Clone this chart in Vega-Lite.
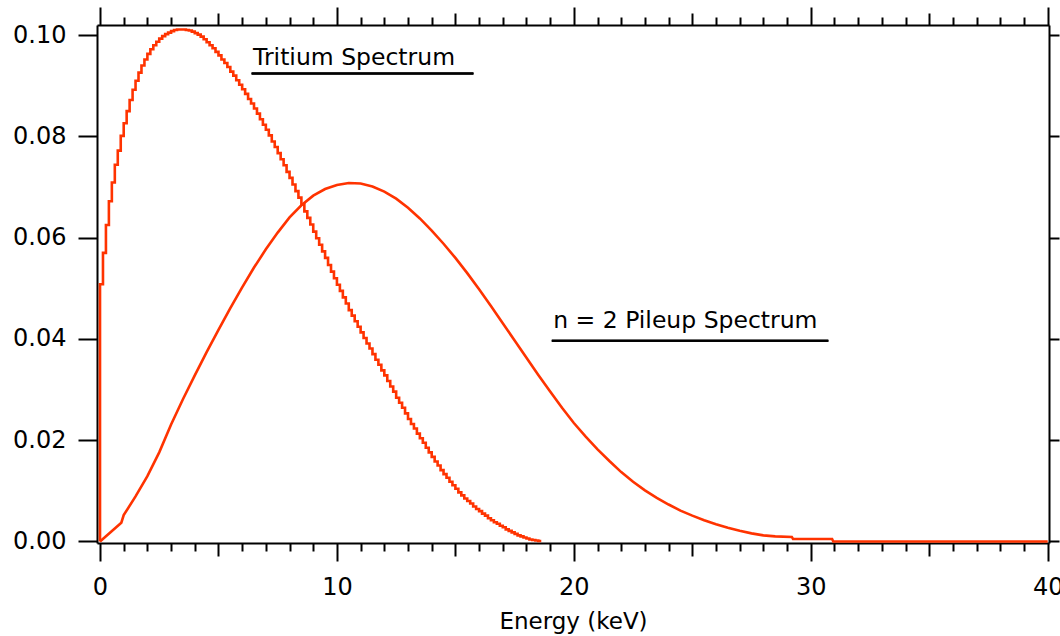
{
"$schema": "https://vega.github.io/schema/vega-lite/v6.json",
"width": 952, "height": 518,
"autosize": {"type": "none"},
"padding": {"left": 97, "top": 25, "right": 11, "bottom": 93},
"background": "white",
"config": {"view": {"stroke": null}, "axis": {"domainColor": "black", "domainWidth": 2, "tickColor": "black", "tickWidth": 2, "labelFont": "DejaVu Sans", "labelFontSize": 24, "labelColor": "black", "titleFont": "DejaVu Sans", "titleFontSize": 23, "titleFontWeight": "normal", "titleColor": "black", "grid": false, "labelFlush": false, "labelOverlap": false}},
"datasets": {
"tritium": [
{"x":0,"y":0},{"x":0.125,"y":0.0508},{"x":0.25,"y":0.0570},{"x":0.375,"y":0.0625},{"x":0.5,"y":0.0672},{"x":0.625,"y":0.0709},{"x":0.75,"y":0.0744},{"x":0.875,"y":0.0772},{"x":1.0,"y":0.0801},{"x":1.125,"y":0.0826},{"x":1.25,"y":0.0850},{"x":1.375,"y":0.0872},{"x":1.5,"y":0.0892},{"x":1.625,"y":0.0910},{"x":1.75,"y":0.0926},{"x":1.875,"y":0.0940},{"x":2.0,"y":0.0952},{"x":2.125,"y":0.0963},{"x":2.25,"y":0.0972},{"x":2.375,"y":0.0980},{"x":2.5,"y":0.0987},{"x":2.625,"y":0.0993},{"x":2.75,"y":0.0998},{"x":2.875,"y":0.1002},{"x":3.0,"y":0.1005},{"x":3.125,"y":0.1008},{"x":3.25,"y":0.1010},{"x":3.375,"y":0.1011},{"x":3.5,"y":0.1011},{"x":3.625,"y":0.1011},{"x":3.75,"y":0.1010},{"x":3.875,"y":0.1009},{"x":4.0,"y":0.1007},{"x":4.125,"y":0.1004},{"x":4.25,"y":0.1001},{"x":4.375,"y":0.0997},{"x":4.5,"y":0.0992},{"x":4.625,"y":0.0986},{"x":4.75,"y":0.0980},{"x":4.875,"y":0.0974},{"x":5.0,"y":0.0967},{"x":5.125,"y":0.0960},{"x":5.25,"y":0.0952},{"x":5.375,"y":0.0945},{"x":5.5,"y":0.0937},{"x":5.625,"y":0.0928},{"x":5.75,"y":0.0920},{"x":5.875,"y":0.0911},{"x":6.0,"y":0.0902},{"x":6.125,"y":0.0893},{"x":6.25,"y":0.0884},{"x":6.375,"y":0.0874},{"x":6.5,"y":0.0865},{"x":6.625,"y":0.0855},{"x":6.75,"y":0.0845},{"x":6.875,"y":0.0834},{"x":7.0,"y":0.0823},{"x":7.125,"y":0.0813},{"x":7.25,"y":0.0802},{"x":7.375,"y":0.0790},{"x":7.5,"y":0.0779},{"x":7.625,"y":0.0767},{"x":7.75,"y":0.0755},{"x":7.875,"y":0.0743},{"x":8.0,"y":0.0730},{"x":8.125,"y":0.0718},{"x":8.25,"y":0.0705},{"x":8.375,"y":0.0692},{"x":8.5,"y":0.0679},{"x":8.625,"y":0.0666},{"x":8.75,"y":0.0652},{"x":8.875,"y":0.0639},{"x":9.0,"y":0.0626},{"x":9.125,"y":0.0612},{"x":9.25,"y":0.0599},{"x":9.375,"y":0.0586},{"x":9.5,"y":0.0573},{"x":9.625,"y":0.0560},{"x":9.75,"y":0.0546},{"x":9.875,"y":0.0533},{"x":10.0,"y":0.0520},{"x":10.125,"y":0.0507},{"x":10.25,"y":0.0495},{"x":10.375,"y":0.0482},{"x":10.5,"y":0.0470},{"x":10.625,"y":0.0457},{"x":10.75,"y":0.0446},{"x":10.875,"y":0.0435},{"x":11.0,"y":0.0424},{"x":11.125,"y":0.0413},{"x":11.25,"y":0.0402},{"x":11.375,"y":0.0391},{"x":11.5,"y":0.0381},{"x":11.625,"y":0.0370},{"x":11.75,"y":0.0359},{"x":11.875,"y":0.0349},{"x":12.0,"y":0.0338},{"x":12.125,"y":0.0328},{"x":12.25,"y":0.0317},{"x":12.375,"y":0.0306},{"x":12.5,"y":0.0296},{"x":12.625,"y":0.0284},{"x":12.75,"y":0.0274},{"x":12.875,"y":0.0264},{"x":13.0,"y":0.0253},{"x":13.125,"y":0.0242},{"x":13.25,"y":0.0232},{"x":13.375,"y":0.0223},{"x":13.5,"y":0.0213},{"x":13.625,"y":0.0204},{"x":13.75,"y":0.0195},{"x":13.875,"y":0.0185},{"x":14.0,"y":0.0176},{"x":14.125,"y":0.0167},{"x":14.25,"y":0.0158},{"x":14.375,"y":0.0150},{"x":14.5,"y":0.0141},{"x":14.625,"y":0.0133},{"x":14.75,"y":0.0126},{"x":14.875,"y":0.0118},{"x":15.0,"y":0.0111},{"x":15.125,"y":0.0104},{"x":15.25,"y":0.0097},{"x":15.375,"y":0.0091},{"x":15.5,"y":0.0085},{"x":15.625,"y":0.0080},{"x":15.75,"y":0.0075},{"x":15.875,"y":0.0069},{"x":16.0,"y":0.0064},{"x":16.125,"y":0.0060},{"x":16.25,"y":0.0055},{"x":16.375,"y":0.0051},{"x":16.5,"y":0.0046},{"x":16.625,"y":0.0042},{"x":16.75,"y":0.0038},{"x":16.875,"y":0.0035},{"x":17.0,"y":0.0031},{"x":17.125,"y":0.0028},{"x":17.25,"y":0.0024},{"x":17.375,"y":0.0021},{"x":17.5,"y":0.0018},{"x":17.625,"y":0.0015},{"x":17.75,"y":0.0012},{"x":17.875,"y":0.0010},{"x":18.0,"y":0.0008},{"x":18.125,"y":0.0006},{"x":18.25,"y":0.0004},{"x":18.375,"y":0.0003},{"x":18.5,"y":0.0002},{"x":18.625,"y":0.0001}
],
"pileup": [
{"x":0,"y":0},{"x":0.9,"y":0.0037},{"x":1.0,"y":0.0052},{"x":1.5,"y":0.0089},{"x":2.0,"y":0.0129},{"x":2.5,"y":0.0176},{"x":3.0,"y":0.0231},{"x":3.5,"y":0.0281},{"x":4.0,"y":0.0328},{"x":4.5,"y":0.0374},{"x":5.0,"y":0.0418},{"x":5.5,"y":0.0461},{"x":6.0,"y":0.0502},{"x":6.5,"y":0.0541},{"x":7.0,"y":0.0577},{"x":7.5,"y":0.0610},{"x":8.0,"y":0.0640},{"x":8.5,"y":0.0664},{"x":9.0,"y":0.0683},{"x":9.5,"y":0.0696},{"x":10.0,"y":0.0704},{"x":10.5,"y":0.0708},{"x":11.0,"y":0.0707},{"x":11.5,"y":0.0701},{"x":12.0,"y":0.0691},{"x":12.5,"y":0.0677},{"x":13.0,"y":0.0659},{"x":13.5,"y":0.0638},{"x":14.0,"y":0.0614},{"x":14.5,"y":0.0588},{"x":15.0,"y":0.0560},{"x":15.5,"y":0.0530},{"x":16.0,"y":0.0498},{"x":16.5,"y":0.0465},{"x":17.0,"y":0.0431},{"x":17.5,"y":0.0397},{"x":18.0,"y":0.0363},{"x":18.5,"y":0.0329},{"x":19.0,"y":0.0296},{"x":19.5,"y":0.0264},{"x":20.0,"y":0.0234},{"x":20.5,"y":0.0207},{"x":21.0,"y":0.0182},{"x":21.5,"y":0.0159},{"x":22.0,"y":0.0137},{"x":22.5,"y":0.0118},{"x":23.0,"y":0.0101},{"x":23.5,"y":0.0086},{"x":24.0,"y":0.0073},{"x":24.5,"y":0.0061},{"x":25.0,"y":0.0051},{"x":25.5,"y":0.0042},{"x":26.0,"y":0.0034},{"x":26.5,"y":0.0027},{"x":27.0,"y":0.0021},{"x":27.5,"y":0.0016},{"x":28.0,"y":0.0012},{"x":28.5,"y":0.0010},{"x":29.2,"y":0.0009},{"x":29.25,"y":0.0005},{"x":30.9,"y":0.0005},{"x":30.95,"y":0},{"x":40,"y":0}
],
"labels": [
{"x":6.46,"y":0.0941,"label":"Tritium Spectrum"},
{"x":19.13,"y":0.0421,"label":"n = 2 Pileup Spectrum"}
],
"underlines": [
{"x":6.40,"x2":15.76,"y":0.0924},
{"x":19.07,"x2":30.74,"y":0.03965}
]
},
"layer": [
{
"data": {"name": "tritium"},
"mark": {"type": "line", "interpolate": "step-before", "color": "#ff3300", "strokeWidth": 2.6},
"encoding": {
"x": {"field": "x", "type": "quantitative", "scale": {"domain": [-0.127, 40.055], "nice": false, "zero": false},
"axis": {"orient": "bottom", "values": [0, 10, 20, 30, 40], "format": "d", "tickSize": 18, "labelPadding": 14, "title": "Energy (keV)", "titlePadding": 11}},
"y": {"field": "y", "type": "quantitative", "scale": {"domain": [-0.0003, 0.102], "nice": false, "zero": false},
"axis": {"orient": "left", "values": [0, 0.02, 0.04, 0.06, 0.08, 0.1], "format": ".2f", "tickSize": 19, "labelPadding": 12, "title": null}}
}
},
{
"data": {"name": "pileup"},
"mark": {"type": "line", "interpolate": "linear", "color": "#ff3300", "strokeWidth": 2.6},
"encoding": {
"x": {"field": "x", "type": "quantitative", "scale": {"domain": [-0.127, 40.055], "nice": false, "zero": false},
"axis": {"orient": "bottom", "values": [1,2,3,4,6,7,8,9,11,12,13,14,16,17,18,19,21,22,23,24,26,27,28,29,31,32,33,34,36,37,38,39], "tickSize": 8, "labels": false, "domain": false, "title": null}},
"y": {"field": "y", "type": "quantitative", "scale": {"domain": [-0.0003, 0.102], "nice": false, "zero": false},
"axis": {"orient": "right", "values": [0, 0.02, 0.04, 0.06, 0.08, 0.1], "tickSize": 10, "labels": false, "title": null}}
}
},
{
"data": {"name": "underlines"},
"mark": {"type": "rule", "color": "black", "strokeWidth": 2},
"encoding": {
"x": {"field": "x", "type": "quantitative", "scale": {"domain": [-0.127, 40.055], "nice": false, "zero": false},
"axis": {"orient": "bottom", "values": [5, 15, 25, 35], "tickSize": 13, "labels": false, "domain": false, "title": null}},
"x2": {"field": "x2"},
"y": {"field": "y", "type": "quantitative", "axis": null}
}
},
{
"data": {"name": "labels"},
"mark": {"type": "text", "align": "left", "baseline": "alphabetic", "font": "DejaVu Sans", "fontSize": 23.5, "color": "black"},
"encoding": {
"x": {"field": "x", "type": "quantitative", "scale": {"domain": [-0.127, 40.055], "nice": false, "zero": false},
"axis": {"orient": "top", "values": [0, 10, 20, 30, 40], "tickSize": 18, "labels": false, "title": null}},
"y": {"field": "y", "type": "quantitative", "axis": null},
"text": {"field": "label"}
}
},
{
"data": {"name": "underlines"},
"mark": {"type": "rule", "color": "black", "strokeWidth": 2},
"encoding": {
"x": {"field": "x", "type": "quantitative", "scale": {"domain": [-0.127, 40.055], "nice": false, "zero": false},
"axis": {"orient": "top", "values": [5, 15, 25, 35], "tickSize": 12, "labels": false, "domain": false, "title": null}},
"x2": {"field": "x2"},
"y": {"field": "y", "type": "quantitative", "axis": null}
}
},
{
"data": {"name": "underlines"},
"mark": {"type": "rule", "color": "black", "strokeWidth": 2},
"encoding": {
"x": {"field": "x", "type": "quantitative", "scale": {"domain": [-0.127, 40.055], "nice": false, "zero": false},
"axis": {"orient": "top", "values": [1,2,3,4,6,7,8,9,11,12,13,14,16,17,18,19,21,22,23,24,26,27,28,29,31,32,33,34,36,37,38,39], "tickSize": 8, "labels": false, "domain": false, "title": null}},
"x2": {"field": "x2"},
"y": {"field": "y", "type": "quantitative", "axis": null}
}
}
],
"resolve": {"axis": {"x": "independent", "y": "independent"}}
}
